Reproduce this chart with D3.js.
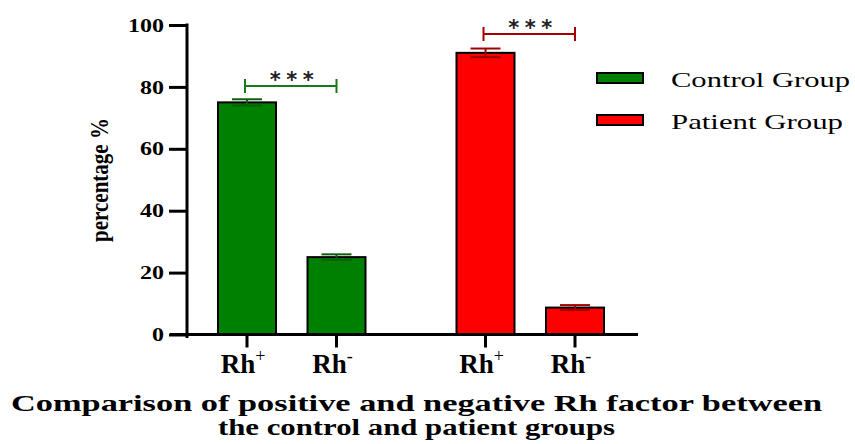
<!DOCTYPE html>
<html><head><meta charset="utf-8">
<script src="https://cdn.jsdelivr.net/npm/d3@7"></script>
<style>body{margin:0;background:#fff}svg{display:block}</style>
</head><body>
<svg id="c" width="855" height="444"></svg>
<script>
const categories = ["Rh+", "Rh-", "Rh+", "Rh-"];
const groups = ["Control Group", "Control Group", "Patient Group", "Patient Group"];
const values = [75, 25, 91, 8.7];
const errors = [1.0, 0.9, 1.4, 0.8];
const yTicks = [0, 20, 40, 60, 80, 100];
const sigPairs = [[0, 1], [2, 3]];
const sigLevels = [80.3, 97.1];
const sigLabels = ["***", "***"];
const legendNames = ["Control Group", "Patient Group"];
const fillColors = ["#008000", "#ff0000"];
const errColors = ["#0a5e0a", "#a00000"];
const sigColors = ["#167a16", "#a80000"];
const titleLines = ["Comparison of positive and negative Rh factor between", "the control and patient groups"];

const svg = d3.select("#c");
const serif = "'Liberation Serif','Times New Roman',serif";

const y = d3.scaleLinear().domain([0, 100]).range([334.5, 25]);
const centers = [247, 336.5, 485.5, 575];
const x = d3.scaleOrdinal().domain([0, 1, 2, 3]).range(centers);
const barW = 58;
const gi = i => legendNames.indexOf(groups[i]);

// y axis
const yAxis = d3.axisLeft(y).tickValues(yTicks).tickSize(18).tickPadding(5).tickFormat(d3.format("d"));
const gy = svg.append("g").attr("transform", "translate(187,0)").call(yAxis);
gy.select(".domain").remove();
gy.selectAll(".tick line").attr("stroke", "#000").attr("stroke-width", 3);
gy.selectAll("text").attr("font-family", serif).attr("font-weight", "bold").attr("font-size", 18).attr("fill", "#000")
  .attr("x", -23).attr("dy", "0.34em")
  .attr("textLength", d => String(d).length * 12).attr("lengthAdjust", "spacingAndGlyphs");
svg.append("line").attr("x1", 187).attr("x2", 187).attr("y1", y(100) - 1.5).attr("y2", 338).attr("stroke", "#000").attr("stroke-width", 3);

// bars
svg.selectAll("rect.bar").data(values).enter().append("rect")
  .attr("x", (d, i) => x(i) - barW / 2).attr("width", barW)
  .attr("y", d => y(d)).attr("height", d => y(0) - y(d))
  .attr("fill", (d, i) => fillColors[gi(i)]).attr("stroke", "#000").attr("stroke-width", 2);

// error bars
values.forEach((v, i) => {
  const c = errColors[gi(i)], cx = x(i);
  const g = svg.append("g").attr("stroke", c).attr("stroke-width", 2);
  g.append("line").attr("x1", cx).attr("x2", cx).attr("y1", y(v + errors[i])).attr("y2", y(v - errors[i]));
  g.append("line").attr("x1", cx - 15).attr("x2", cx + 15).attr("y1", y(v + errors[i])).attr("y2", y(v + errors[i]));
  g.append("line").attr("x1", cx - 15).attr("x2", cx + 15).attr("y1", y(v - errors[i])).attr("y2", y(v - errors[i]));
});

// x axis
svg.append("line").attr("x1", 170).attr("x2", 638).attr("y1", y(0)).attr("y2", y(0)).attr("stroke", "#000").attr("stroke-width", 3);
categories.forEach((c, i) => {
  svg.append("line").attr("x1", x(i)).attr("x2", x(i)).attr("y1", y(0)).attr("y2", y(0) + 13).attr("stroke", "#000").attr("stroke-width", 3);
  const t = svg.append("text").attr("x", x(i) - 4).attr("y", 373).attr("text-anchor", "middle")
    .attr("font-family", serif).attr("font-weight", "bold").attr("font-size", 27).attr("fill", "#000");
  t.append("tspan").text(c.slice(0, 2));
  t.append("tspan").attr("dy", -11).attr("font-size", 18).attr("font-weight", "normal").text(c.slice(2));
});

// significance brackets
sigPairs.forEach((p, k) => {
  const c = sigColors[k], yy = y(sigLevels[k]);
  const x1 = x(p[0]) - 2, x2 = x(p[1]);
  const g = svg.append("g").attr("stroke", c).attr("stroke-width", 2);
  g.append("line").attr("x1", x1).attr("x2", x2).attr("y1", yy).attr("y2", yy);
  g.append("line").attr("x1", x1).attr("x2", x1).attr("y1", yy - 7).attr("y2", yy + 7);
  g.append("line").attr("x1", x2).attr("x2", x2).attr("y1", yy - 7).attr("y2", yy + 7);
  svg.append("text").attr("x", (x1 + x2) / 2 + 1).attr("y", yy + 1).attr("text-anchor", "middle")
    .attr("font-family", "'DejaVu Sans',sans-serif").attr("font-weight", "bold").attr("font-size", 21)
    .attr("textLength", 44).attr("lengthAdjust", "spacing")
    .attr("fill", "#222").text(sigLabels[k]);
});

// legend
const legendW = [179, 172];
legendNames.forEach((n, i) => {
  const ly = 78 + i * 42;
  svg.append("rect").attr("x", 597).attr("y", ly - 5).attr("width", 46).attr("height", 10)
    .attr("fill", fillColors[i]).attr("stroke", "#000").attr("stroke-width", 2);
  svg.append("text").attr("x", 671).attr("y", ly + 9).attr("font-family", serif).attr("font-size", 22)
    .attr("textLength", legendW[i]).attr("lengthAdjust", "spacingAndGlyphs")
    .attr("fill", "#000").text(n);
});

// y label
svg.append("text").attr("transform", "translate(108,180) rotate(-90)").attr("text-anchor", "middle")
  .attr("font-family", serif).attr("font-weight", "bold").attr("font-size", 25)
  .attr("textLength", 124).attr("lengthAdjust", "spacingAndGlyphs").attr("fill", "#000").text("percentage %");

// title
const titleW = [811, 397];
titleLines.forEach((l, i) => {
  svg.append("text").attr("x", 416.5).attr("y", 411 + i * 24).attr("text-anchor", "middle")
    .attr("font-family", serif).attr("font-weight", "bold").attr("font-size", 24)
    .attr("textLength", titleW[i]).attr("lengthAdjust", "spacingAndGlyphs")
    .attr("fill", "#000").text(l);
});
</script>
</body></html>
